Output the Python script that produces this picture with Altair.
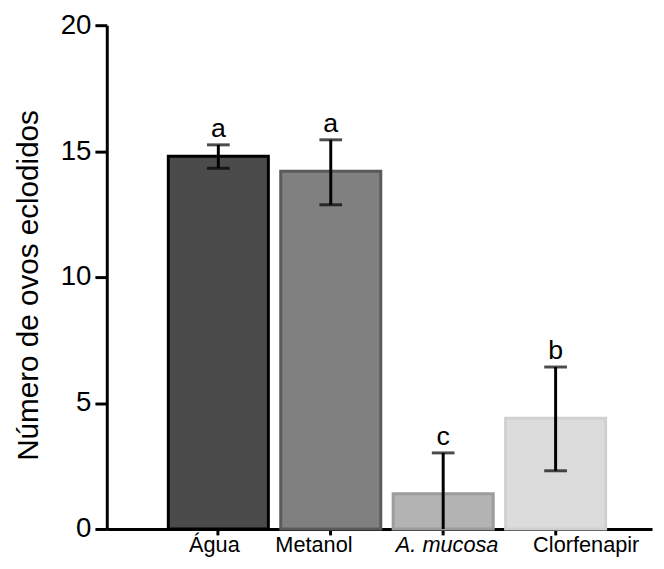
import altair as alt
import pandas as pd

# Data
groups = ["Água", "Metanol", "A. mucosa", "Clorfenapir"]
means = [14.8, 14.2, 1.4, 4.4]
upper = [15.25, 15.45, 3.02, 6.43]
lower = [14.32, 12.87, 0.0, 2.31]
letters = ["a", "a", "c", "b"]

fills = ["#4b4b4b", "#808080", "#b3b3b3", "#dcdcdc"]
strokes = ["#000000", "#5a5a5a", "#9c9c9c", "#d0d0d0"]

df = pd.DataFrame({"grupo": groups, "media": means, "hi": upper, "lo": lower, "letra": letters})

label_shift = {"Água": -4, "Metanol": -17, "A. mucosa": 4, "Clorfenapir": 31}

FONT = "Liberation Sans"

x_enc = alt.X(
    "grupo:N",
    sort=groups,
    title=None,
    scale=alt.Scale(paddingInner=0.11, paddingOuter=0.48, align=0.57),
    axis=alt.Axis(
        domainWidth=3, domainColor="black",
        tickSize=6, tickWidth=3, tickColor="black",
        labelFont=FONT, labelFontSize=22, labelColor="black", labelAngle=0,
        labelPadding=0,
        labelFontStyle={"condition": {"test": "datum.value == 'A. mucosa'", "value": "italic"}, "value": "normal"},
        labelOffset={"condition": [{"test": f"datum.value == '{k}'", "value": v} for k, v in label_shift.items()], "value": 0},
    ),
)

y_scale = alt.Scale(domain=[0, 20], nice=False, clamp=True)

bars = alt.Chart(df).mark_bar(strokeWidth=3).encode(
    x=x_enc,
    y=alt.Y(
        "media:Q",
        scale=y_scale,
        title="Número de ovos eclodidos",
        axis=alt.Axis(
            values=[0, 5, 10, 15, 20], grid=False,
            domainWidth=3, domainColor="black",
            tickSize=12, tickWidth=3, tickColor="black",
            labelFont=FONT, labelFontSize=28, labelColor="black", labelPadding=4,
            titleFont=FONT, titleFontSize=30, titleFontWeight="normal", titleColor="black",
            titleAngle=-90, titleX=-70, titleY=263, titleAlign="center", titleBaseline="alphabetic",
        ),
    ),
    fill=alt.Color("grupo:N", scale=alt.Scale(domain=groups, range=fills), legend=None),
    stroke=alt.Color("grupo:N", scale=alt.Scale(domain=groups, range=strokes), legend=None),
)

rules = alt.Chart(df).mark_rule(color="black", strokeWidth=3).encode(
    x=alt.X("grupo:N", sort=groups),
    y=alt.Y("lo:Q", scale=y_scale),
    y2="hi:Q",
)

cap_hi = alt.Chart(df).mark_tick(color="black", thickness=3, size=23).encode(
    x=alt.X("grupo:N", sort=groups),
    y=alt.Y("hi:Q", scale=y_scale),
)

cap_lo = alt.Chart(df).transform_filter("datum.lo > 0").mark_tick(color="black", thickness=3, size=23).encode(
    x=alt.X("grupo:N", sort=groups),
    y=alt.Y("lo:Q", scale=y_scale),
)

text = alt.Chart(df).mark_text(font=FONT, fontSize=27, baseline="alphabetic", dy=-8, color="black").encode(
    x=alt.X("grupo:N", sort=groups),
    y=alt.Y("hi:Q", scale=y_scale),
    text="letra:N",
)

chart = alt.layer(bars, rules, cap_hi, cap_lo, text).properties(
    width=552, height=510,
    padding={"left": 100, "top": 14, "right": 4, "bottom": 29},
    autosize=alt.AutoSizeParams(type="none"),
    background="white",
).configure_view(strokeWidth=0)

chart.save("out.html", embed_options={"renderer": "svg", "actions": False})
